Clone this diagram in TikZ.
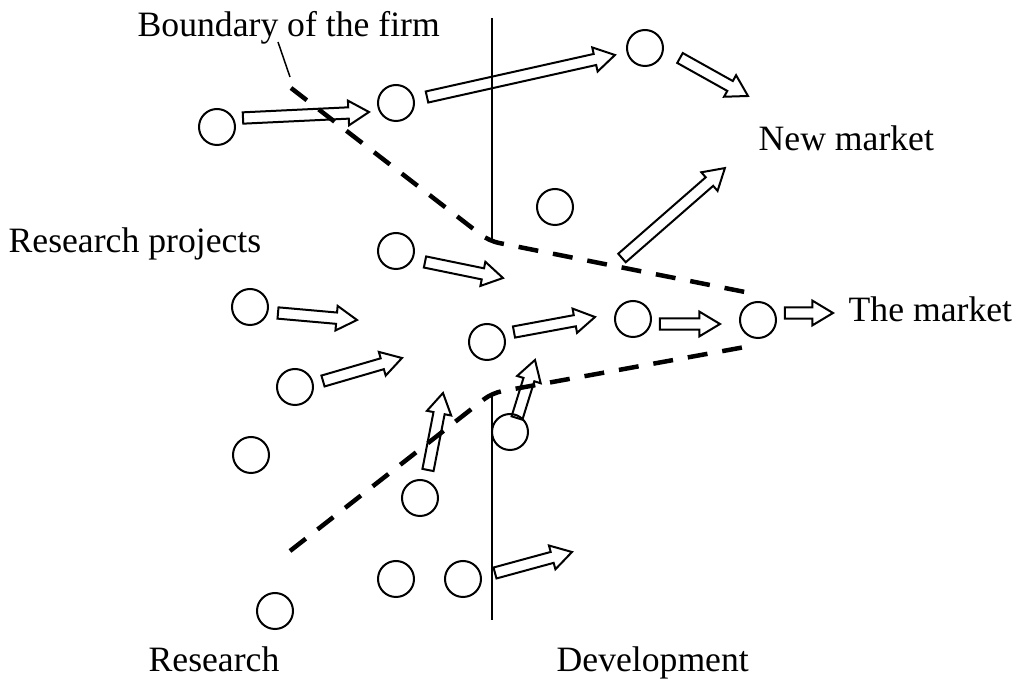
\documentclass[tikz,border=0pt]{standalone}
\usepackage{fontspec}
\setmainfont{Liberation Serif}
\usetikzlibrary{calc, shapes.arrows}

% hollow block arrow from #1 to #2
\newcommand{\flowarrow}[2]{%
  \path let \p1=($(#2)-(#1)$), \n1={atan2(\y1,\x1)}, \n2={veclen(\x1,\y1)} in
    node[block arrow, minimum height=\n2, rotate=\n1] at (#1) {};%
}

\begin{document}
\begin{tikzpicture}[
    % one unit is one pixel, y grows downwards
    x=0.3pt, y=-0.3pt,
    % Node styles
    project/.style={
        circle, draw, line width=0.6pt, minimum size=10.8pt, inner sep=0pt,
      },
    block arrow/.style={
        single arrow, draw, line width=0.6pt,
        inner xsep=0pt, inner ysep=1.4pt, outer sep=0pt,
        single arrow head extend=2pt, single arrow tip angle=62,
        anchor=tail,
      },
    label text/.style={
        font=\fontsize{10.7}{12}\selectfont, anchor=base west, inner sep=0pt,
      },
    % firm boundary
    boundary/.style={
        line width=1.35pt, dash pattern=on 6pt off 4.5pt, rounded corners=3pt,
      },
  ]
  \useasboundingbox (0,0) rectangle (1015,679);

  % --- Boundary of the firm ---
  \coordinate (b1) at (291,88);
  \coordinate (b2) at (489,241);
  \coordinate (b3) at (745,292);
  \coordinate (b4) at (745,347);
  \coordinate (b5) at (492,393);
  \coordinate (b6) at (290,551);
  \draw[boundary] (b1) -- (b2) -- (b3);
  \draw[boundary] (b6) -- (b5) -- (b4);

  % --- Research / development divide, broken inside the firm ---
  \coordinate (top) at (492,18);
  \coordinate (bottom) at (492,620);
  \draw[line width=0.45pt] (top) -- (top |- b2);
  \draw[line width=0.45pt] (b5) -- (bottom);

  % --- Projects ---
  \foreach \n/\x/\y in {1/217/127, 2/396/103, 3/645/48, 4/555/207,
      5/396/251, 6/250/307, 7/295/387, 8/487/342, 9/633/319, 10/758/320,
      11/251/455, 12/510/432, 13/420/498, 14/396/579, 15/463/579, 16/275/611} {
      \node[project] (p\n) at (\x,\y) {};
    }

  % --- Flows between projects ---
  \foreach \i/\tx/\ty/\hx/\hy in {1/243/118/369/112, 2/427/97/615/55,
      3/680/58/748/96, 4/622/258/725/168, 5/425/262/503/278,
      6/278/313/357/320, 7/323/381/402/358, 8/514/332/595/317,
      9/660/324/720/324, 10/785/313/833/313, 11/428/470/443/393,
      12/517/418/535/360, 13/495/573/572/552} {
      \coordinate (t\i) at (\tx,\ty);
      \coordinate (h\i) at (\hx,\hy);
      \flowarrow{t\i}{h\i}
    }

  % --- Labels ---
  \node[label text] (firm) at (137,37) {Boundary of the firm};
  \node[label text] (newmarket) at (758,151) {New market};
  \node[label text] (projects) at (8,253) {Research projects};
  \node[label text] (market) at (848,322) {The market};
  \node[label text] (research) at (148,672) {Research};
  \node[label text] (development) at (556,672) {Development};

  % leader from the label to the boundary
  \coordinate (l1) at (278,42);
  \coordinate (l2) at (290,77);
  \draw[line width=0.45pt] (l1) -- (l2);
\end{tikzpicture}
\end{document}
